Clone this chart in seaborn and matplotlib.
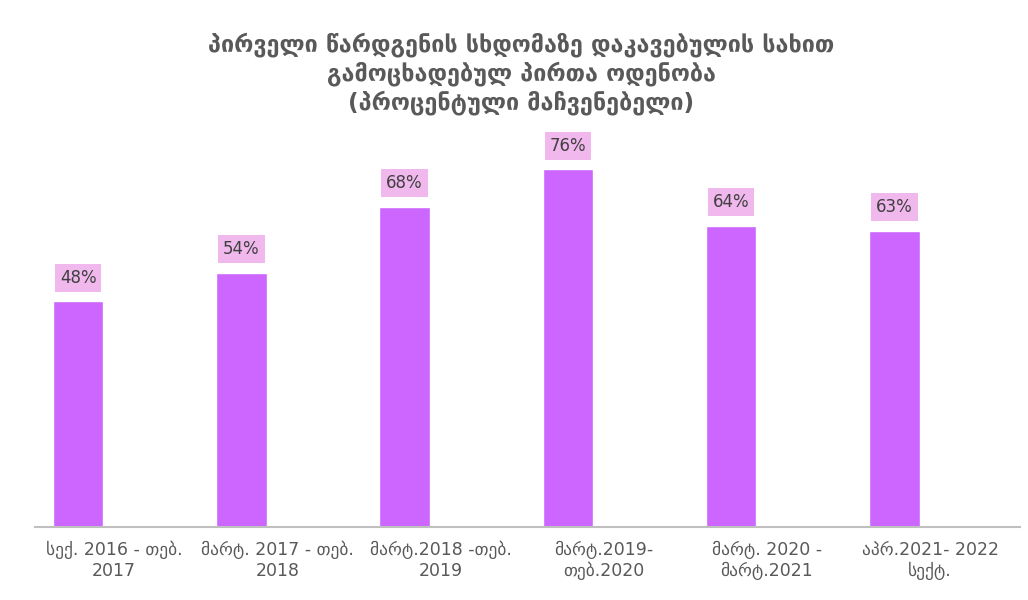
import pandas as pd
import matplotlib.pyplot as plt
import seaborn as sns

sns.set_style("white")
plt.rcParams['font.family'] = ['DejaVu Sans']

periods = [
    "სექ. 2016 - თებ.\n2017",
    "მარტ. 2017 - თებ.\n2018",
    "მარტ.2018 -თებ.\n2019",
    "მარტ.2019-\nთებ.2020",
    "მარტ. 2020 -\nმარტ.2021",
    "აპრ.2021- 2022\nსექტ.",
]
percent = [48, 54, 68, 76, 64, 63]

df = pd.DataFrame({"period": periods, "percent": percent})

fig = plt.figure(figsize=(10.28, 6.0), dpi=100)
ax = fig.add_axes([35 / 1028, 73 / 600, 985 / 1028, 400 / 600])

sns.barplot(data=df, x="period", y="percent", color="#CC66FF",
            width=0.31, saturation=1, ax=ax)

# value labels in pink boxes above bars
for i, v in enumerate(percent):
    ax.annotate(f"{v}%", xy=(i, v), xytext=(0, 17), textcoords="offset points",
                ha="center", va="center", fontsize=12, color="#404040",
                bbox=dict(boxstyle="square,pad=0.3", fc="#F0B8EC", ec="none"))

# category labels sit a bit right of the bars (like an Excel clustered chart)
ax.set_xticks([i + 0.22 for i in range(len(periods))], periods)
ax.set_xlim(-0.264, 5.77)
ax.set_ylim(0, 85)
ax.set_yticks([])
ax.set_xlabel("")
ax.set_ylabel("")
for s in ["top", "right", "left"]:
    ax.spines[s].set_visible(False)
ax.spines["bottom"].set_color("#BFBFBF")
ax.spines["bottom"].set_linewidth(1.5)
ax.tick_params(axis="x", length=0, pad=10, labelsize=12.5, labelcolor="#595959")

fig.text(0.507, 0.946,
         "პირველი წარდგენის სხდომაზე დაკავებულის სახით\n"
         "გამოცხადებულ პირთა ოდენობა\n"
         "(პროცენტული მაჩვენებელი)",
         ha="center", va="top", fontsize=16.8, fontweight="bold",
         color="#595959", linespacing=1.22)

fig.savefig("out.png", dpi=100)
